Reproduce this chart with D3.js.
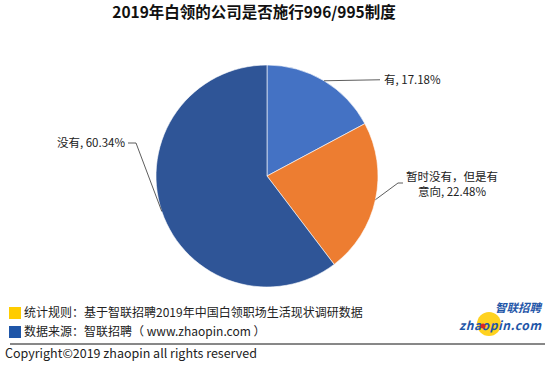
<!DOCTYPE html>
<html>
<head>
<meta charset="utf-8">
<script src="https://d3js.org/d3.v7.min.js"></script>
<style>
  body { margin: 0; background: #fff; }
  text { font-family: "Noto Sans CJK SC", "Microsoft YaHei", sans-serif; }
</style>
</head>
<body>
<div id="container"></div>
<script>
// Data
const categories = ["有", "暂时没有，但是有意向", "没有"]
const values = [17.18, 22.48, 60.34]
const colors = ["#4472C4", "#ED7D31", "#2F5597"]
const title = "2019年白领的公司是否施行996/995制度"
const notes = ["统计规则：基于智联招聘2019年中国白领职场生活现状调研数据", "数据来源：智联招聘（ www.zhaopin.com ）"]
const noteColors = ["#FFCC00", "#1F56A8"]
const copyright = "Copyright©2019 zhaopin all rights reserved"

const w = 554
const h = 371
const cx = 267, cy = 176, r = 111

const svg = d3.select("#container").append("svg")
    .attr("width", w)
    .attr("height", h)

svg.append("rect").attr("width", w).attr("height", h).attr("fill", "#fff")

// Title
svg.append("text")
    .attr("x", 254)
    .attr("y", 18)
    .attr("text-anchor", "middle")
    .attr("font-size", 15.5)
    .attr("font-weight", "bold")
    .attr("fill", "#111")
    .text(title)

// Pie
const data = categories.map((c, i) => ({ name: c, value: values[i], color: colors[i] }))
const pie = d3.pie().sort(null).value(d => d.value)
const arcs = pie(data)
const arc = d3.arc().innerRadius(0).outerRadius(r)

const g = svg.append("g").attr("transform", `translate(${cx},${cy})`)
g.selectAll("path")
    .data(arcs)
    .enter()
    .append("path")
    .attr("d", arc)
    .attr("fill", d => d.data.color)
    .attr("stroke", "#fff")
    .attr("stroke-width", 0.6)

// Leader lines + labels
const edge = a => {
    const m = (a.startAngle + a.endAngle) / 2
    return [cx + r * Math.sin(m), cy - r * Math.cos(m)]
}
const fmt = d => `${d.data.value.toFixed(2)}%`
const lbl = (x, y, s, anchor) => svg.append("text")
    .attr("x", x).attr("y", y)
    .attr("text-anchor", anchor)
    .attr("font-size", 11.5).attr("fill", "#222")
    .text(s)

// 有
const p0 = edge(arcs[0])
svg.append("polyline")
    .attr("points", [p0, [380, p0[1] - 1]].join(" "))
    .attr("fill", "none").attr("stroke", "#333").attr("stroke-width", 0.8)
lbl(384, p0[1] + 3, `${categories[0]}, ${fmt(arcs[0])}`, "start")

// 暂时没有，但是有意向
const p1 = edge(arcs[1])
svg.append("polyline")
    .attr("points", [p1, [398, 183], [403, 183]].join(" "))
    .attr("fill", "none").attr("stroke", "#333").attr("stroke-width", 0.8)
lbl(452, 181, "暂时没有，但是有", "middle")
lbl(452, 196, `意向, ${fmt(arcs[1])}`, "middle")

// 没有
const p2 = edge(arcs[2])
svg.append("polyline")
    .attr("points", [p2, [136, 143], [128, 143]].join(" "))
    .attr("fill", "none").attr("stroke", "#333").attr("stroke-width", 0.8)
lbl(125, 147, `${categories[2]}, ${fmt(arcs[2])}`, "end")

// Footer notes
notes.forEach((n, i) => {
    const y = 307 + i * 19
    svg.append("rect")
        .attr("x", 9).attr("y", y)
        .attr("width", 12).attr("height", 12)
        .attr("fill", noteColors[i])
    svg.append("text")
        .attr("x", 24).attr("y", y + 10)
        .attr("font-size", 12).attr("fill", "#222")
        .text(n)
})

svg.append("line")
    .attr("x1", 10).attr("x2", 545)
    .attr("y1", 344).attr("y2", 344)
    .attr("stroke", "#111").attr("stroke-width", 1)

svg.append("text")
    .attr("x", 5).attr("y", 358)
    .attr("font-size", 12.5).attr("fill", "#222")
    .attr("font-family", "'DejaVu Sans', sans-serif")
    .text(copyright)

// Logo
const logo = svg.append("g")
logo.append("circle").attr("cx", 489).attr("cy", 324).attr("r", 12).attr("fill", "#FFD21F")
logo.append("text")
    .attr("x", 541).attr("y", 312)
    .attr("text-anchor", "end")
    .attr("font-size", 11.5).attr("font-weight", "bold").attr("font-style", "italic")
    .attr("fill", "#1F56A8")
    .text("智联招聘")
logo.append("text")
    .attr("x", 541).attr("y", 330)
    .attr("text-anchor", "end")
    .attr("font-size", 12).attr("font-weight", "bold").attr("font-style", "italic")
    .attr("font-family", "'Liberation Sans', Arial, sans-serif")
    .attr("fill", "#1F56A8")
    .attr("textLength", 82)
    .text("zhaopin.com")
logo.append("circle").attr("cx", 483).attr("cy", 326).attr("r", 2.5).attr("fill", "#D9262B")
</script>
</body>
</html>
